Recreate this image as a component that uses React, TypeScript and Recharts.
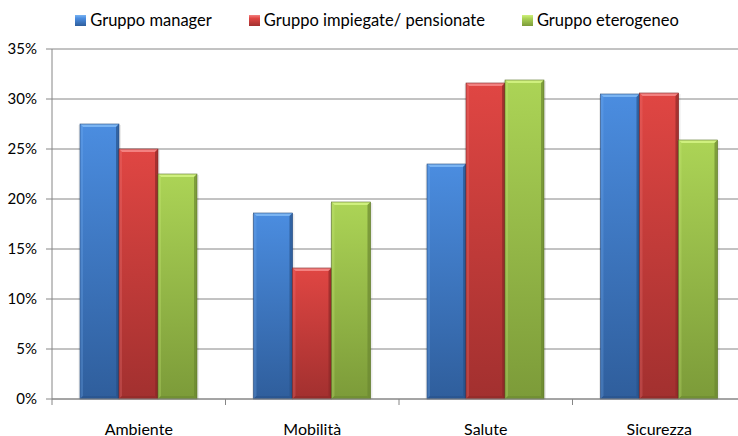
import React from 'react';
import { BarChart, Bar, XAxis, YAxis, CartesianGrid } from 'recharts';

const categories = ['Ambiente', 'Mobilità', 'Salute', 'Sicurezza'];
const manager = [27.5, 18.6, 23.5, 30.5];
const impiegate = [25.0, 13.1, 31.6, 30.6];
const eterogeneo = [22.5, 19.7, 31.9, 25.9];
const yTicks = [0, 5, 10, 15, 20, 25, 30, 35];

const seriesNames = ['Gruppo manager', 'Gruppo impiegate/ pensionate', 'Gruppo eterogeneo'];
const seriesKeys = ['manager', 'impiegate', 'eterogeneo'];

const palettes = [
  { top: '#4b8de0', bottom: '#2f5e9c', light: '#7ab4f2', dark: '#28528a', line: '#24497c' },
  { top: '#e04643', bottom: '#a2302f', light: '#f38180', dark: '#8e2928', line: '#7c2322' },
  { top: '#acd456', bottom: '#7c9b39', light: '#cff07e', dark: '#6b8830', line: '#5a7428' },
];

const data = categories.map((name, i) => ({
  name,
  manager: manager[i],
  impiegate: impiegate[i],
  eterogeneo: eterogeneo[i],
}));

const FONT = 'Lato, "Open Sans", sans-serif';
const CHART_W = 760;
const MARGIN = { top: 49, right: 14, left: 0, bottom: 0 };
const Y_AXIS_W = 52;
const PLOT_W = CHART_W - MARGIN.left - MARGIN.right - Y_AXIS_W;
const HALF_BAND = PLOT_W / categories.length / 2;

const BevelBar = (props: any) => {
  const { x, y, width, height, k } = props;
  if (!height || height <= 0) return null;
  const p = palettes[k];
  const b = 3;
  return (
    <g>
      <rect x={x - 1.5} y={y + 1} width={width + 3.5} height={height - 1} fill="#000" opacity={0.08} />
      <rect x={x} y={y} width={width} height={height} fill={`url(#grad${k})`} />
      <polygon
        points={`${x},${y} ${x + width},${y} ${x + width - b},${y + b} ${x + b},${y + b}`}
        fill={p.light}
      />
      <polygon
        points={`${x},${y} ${x + b},${y + b} ${x + b},${y + height - b} ${x},${y + height}`}
        fill={p.light}
        opacity={0.25}
      />
      <polygon
        points={`${x + width},${y} ${x + width - b},${y + b} ${x + width - b},${y + height - b} ${x + width},${y + height}`}
        fill={p.dark}
        opacity={0.7}
      />
      <polygon
        points={`${x},${y + height} ${x + b},${y + height - b} ${x + width - b},${y + height - b} ${x + width},${y + height}`}
        fill={p.dark}
        opacity={0.6}
      />
      <rect x={x} y={y} width={width} height={height} fill="none" stroke={p.line} strokeWidth={0.6} />
    </g>
  );
};

const CategoryTick = (props: any) => {
  const { x, y, payload, index } = props;
  const last = index === categories.length - 1;
  return (
    <g>
      <line x1={x - HALF_BAND} x2={x - HALF_BAND} y1={y} y2={y + 6} stroke="#868686" />
      {last && <line x1={x + HALF_BAND} x2={x + HALF_BAND} y1={y} y2={y + 6} stroke="#868686" />}
      <text x={x} y={y + 29} textAnchor="middle" dominantBaseline="central" fontFamily={FONT} fontSize={16} fill="#000">
        {payload.value}
      </text>
    </g>
  );
};

const App: React.FC = () => {
  return (
    <div style={{ position: 'fixed', left: 0, top: 0, width: 738, height: 436, overflow: 'hidden', background: '#fff' }}>
      <div
        style={{
          position: 'absolute',
          top: 10,
          left: 8,
          width: 738,
          display: 'flex',
          justifyContent: 'center',
          fontFamily: FONT,
          fontSize: 16.5,
          color: '#000',
          lineHeight: '20px',
        }}
      >
        {seriesNames.map((n, i) => (
          <div key={n} style={{ display: 'flex', alignItems: 'center', marginRight: i < 2 ? 37 : 0 }}>
            <svg width={11} height={11} style={{ marginRight: 4 }}>
              <rect x={0} y={0} width={11} height={11} fill={`url(#lg${i})`} />
              <defs>
                <linearGradient id={`lg${i}`} x1="0" y1="0" x2="0" y2="1">
                  <stop offset="0" stopColor={palettes[i].light} />
                  <stop offset="0.3" stopColor={palettes[i].top} />
                  <stop offset="1" stopColor={palettes[i].bottom} />
                </linearGradient>
              </defs>
            </svg>
            <span>{n}</span>
          </div>
        ))}
      </div>
      <BarChart width={CHART_W} height={436} data={data} margin={MARGIN} barGap={0} barCategoryGap={28}>
        <defs>
          {palettes.map((p, i) => (
            <linearGradient key={i} id={`grad${i}`} x1="0" y1="0" x2="0" y2="1">
              <stop offset="0" stopColor={p.top} />
              <stop offset="1" stopColor={p.bottom} />
            </linearGradient>
          ))}
        </defs>
        <CartesianGrid vertical={false} stroke="#868686" />
        <XAxis
          dataKey="name"
          height={37}
          axisLine={{ stroke: '#868686' }}
          tickLine={false}
          tickSize={0}
          tickMargin={0}
          interval={0}
          tick={<CategoryTick />}
        />
        <YAxis
          width={Y_AXIS_W}
          domain={[0, 35]}
          ticks={yTicks}
          interval={0}
          tickFormatter={(v: number) => `${v}%`}
          axisLine={{ stroke: '#868686' }}
          tickLine={{ stroke: '#868686' }}
          tickSize={6}
          tickMargin={9}
          tick={{ fontFamily: FONT, fontSize: 15, fill: '#000' }}
        />
        {seriesKeys.map((key, i) => (
          <Bar
            key={key}
            dataKey={key}
            name={seriesNames[i]}
            isAnimationActive={false}
            shape={(p: any) => <BevelBar {...p} k={i} />}
          />
        ))}
      </BarChart>
    </div>
  );
};

export default App;
